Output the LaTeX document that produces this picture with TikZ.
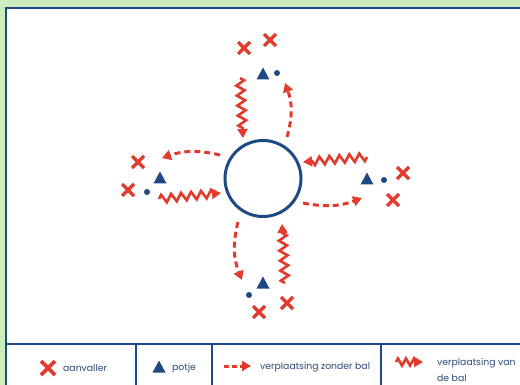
\documentclass[tikz,border=0pt]{standalone}
\usepackage{fontspec}
\setmainfont{Poppins}
\usetikzlibrary{arrows.meta,decorations.pathmorphing}
\definecolor{bg}{HTML}{CDEDBF}
\definecolor{navy}{HTML}{1D4A85}
\definecolor{txt}{HTML}{2E4B7A}
\definecolor{rd}{HTML}{E23B2E}
\tikzset{
  crossmark/.pic={\draw[rd,line width=3.3pt] (-6,-6)--(6,6) (-6,6)--(6,-6);},
  bigcross/.pic={\draw[rd,line width=3.6pt] (-7,-7)--(7,7) (-7,7)--(7,-7);},
  potje/.pic={\fill[navy] (-6.5,5.5)--(6.5,5.5)--(0,-6.5)--cycle;},
  dotmark/.style={fill=navy,circle,inner sep=0pt,minimum size=6pt},
  run/.style={rd,line width=3pt,dash pattern=on 6pt off 4pt,-{Triangle[length=9pt,width=10pt]}},
  dribble/.style={rd,line width=2.6pt,line join=miter,-{Triangle[length=9pt,width=10pt]},
    decorate,decoration={zigzag,segment length=10pt,amplitude=4pt,post length=7pt}},
  lbl/.style={text=txt,font=\fontsize{9.3}{16}\selectfont,anchor=west,inner sep=0pt,align=left},
}
\begin{document}
\begin{tikzpicture}[x=1pt,y=-1pt]
\useasboundingbox (0,0) rectangle (520,385);
\clip (0,0) rectangle (520,385);
\fill[bg] (0,0) rectangle (520,385);
\draw[navy,line width=2.6pt,fill=white] (6,8) rectangle (535,400);
\draw[navy,line width=2.6pt] (6,344) -- (535,344);
\draw[navy,line width=2.6pt] (136,344) -- (136,400) (212,344) -- (212,400) (381,344) -- (381,400);
% centre circle
\node[draw=navy,line width=3pt,circle,minimum size=76pt,inner sep=0pt] (ring) at (263,178.5) {};
% top group
\pic at (244,48) {crossmark};
\pic at (270,40) {crossmark};
\pic at (263,74) {potje};
\node[dotmark] (dt) at (277,73) {};
\coordinate (ta) at (240,78);
\coordinate (tb) at (243,138);
\draw[dribble] (ta) -- (tb);
\coordinate (tc) at (287,137);
\coordinate (td) at (285,83);
\draw[run] (tc) to[bend right=18] (td);
% left group
\pic at (138,162) {crossmark};
\pic at (128,190) {crossmark};
\pic at (160,178) {potje};
\node[dotmark] (dl) at (147,192) {};
\coordinate (la) at (220,155);
\coordinate (lb) at (162,158);
\draw[run] (la) to[bend right=16] (lb);
\coordinate (lc) at (159,199);
\coordinate (ld) at (221,193);
\draw[dribble] (lc) -- (ld);
% right group
\pic at (403,173) {crossmark};
\pic at (393,200) {crossmark};
\pic at (367,179) {potje};
\node[dotmark] (dr) at (384,180) {};
\coordinate (ra) at (367,157);
\coordinate (rb) at (303,162);
\draw[dribble] (ra) -- (rb);
\coordinate (rc) at (303,203);
\coordinate (rd2) at (362,198);
\draw[run] (rc) to[bend right=16] (rd2);
% bottom group
\pic at (259,312) {crossmark};
\pic at (287,303) {crossmark};
\pic at (263,283) {potje};
\node[dotmark] (db) at (249,295) {};
\coordinate (ba) at (238,222);
\coordinate (bb) at (242,280);
\draw[run] (ba) to[bend right=18] (bb);
\coordinate (bc) at (285,283);
\coordinate (bd) at (282,224);
\draw[dribble] (bc) -- (bd);
% legend
\pic at (48,368) {bigcross};
\node[lbl] (l1) at (63,368) {aanvaller};
\pic at (159,367) {potje};
\node[lbl] (l2) at (172,368) {potje};
\coordinate (ea) at (224,366);
\coordinate (eb) at (251,366);
\draw[run,dash pattern=on 5pt off 3pt] (ea) -- (eb);
\node[lbl] (l3) at (260,367) {verplaatsing zonder bal};
\coordinate (fa) at (396,362);
\coordinate (fb) at (423,362);
\draw[dribble,decoration={zigzag,segment length=8pt,amplitude=3.5pt,post length=6pt}] (fa) -- (fb);
\node[lbl] (l4) at (437,370) {verplaatsing van\\de bal};
\end{tikzpicture}
\end{document}
